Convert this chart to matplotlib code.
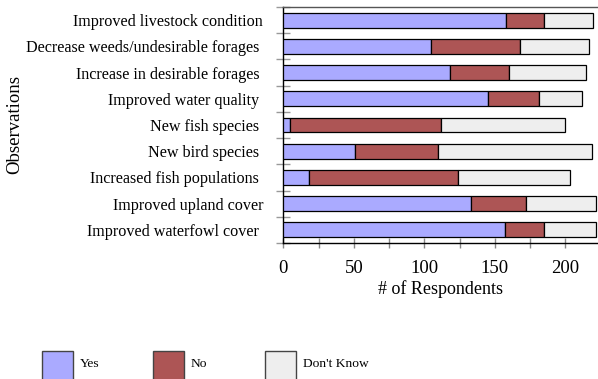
import matplotlib
matplotlib.use("Agg")
import matplotlib.pyplot as plt
from matplotlib.patches import Rectangle
from matplotlib.ticker import MultipleLocator

plt.rcParams['font.family'] = ['Liberation Serif', 'DejaVu Serif']

categories = [
    "Improved livestock condition",
    "Decrease weeds/undesirable forages ",
    "Increase in desirable forages ",
    "Improved water quality ",
    "New fish species ",
    "New bird species ",
    "Increased fish populations ",
    "Improved upland cover",
    "Improved waterfowl cover ",
]
yes = [158, 105, 118, 145, 5, 51, 18, 133, 157]
no = [27, 63, 42, 36, 107, 59, 106, 39, 28]
dont_know = [35, 49, 55, 31, 88, 109, 79, 50, 37]

series_names = ["Yes", "No", "Don't Know"]
colors = ["#aaaaff", "#ad5555", "#eeeeee"]

W, H = 598, 379
fig = plt.figure(figsize=(W / 100, H / 100), dpi=100)
ax = fig.add_axes([283.3 / W, 1 - 243 / H, 1 - 283.3 / W, 236 / H])

ypos = list(range(len(categories)))
left = [0] * len(categories)
for vals, col in zip([yes, no, dont_know], colors):
    ax.barh(ypos, vals, left=left, height=0.57, color=col,
            edgecolor="black", linewidth=0.9, zorder=3)
    left = [a + b for a, b in zip(left, vals)]

ax.set_ylim(len(categories) - 0.5, -0.5)
ax.set_xlim(0, 223.2)

# category labels centred on bars, tick marks between categories
ax.set_yticks(ypos)
ax.set_yticklabels(categories, fontsize=11.6)
ax.tick_params(axis="y", which="major", length=0, pad=14.5)
ax.set_yticks([i + 0.5 for i in range(-1, len(categories))], minor=True)
ax.tick_params(axis="y", which="minor", direction="inout", length=10,
               color="#999999", width=1)

ax.xaxis.set_major_locator(MultipleLocator(50))
ax.xaxis.set_minor_locator(MultipleLocator(25))
ax.tick_params(axis="x", which="both", direction="inout", length=7,
               color="#888888", width=1, labelsize=13.5, pad=9)

ax.set_xlabel("# of Respondents", fontsize=13, labelpad=2)
fig.text(15 / W, 1 - 125 / H, "Observations", fontsize=13.5,
         rotation=90, ha="center", va="center")

for s in ["left", "bottom"]:
    ax.spines[s].set_color("black")
    ax.spines[s].set_linewidth(1.0)
ax.spines["top"].set_color("#555555")
ax.spines["top"].set_linewidth(1.0)
ax.spines["right"].set_visible(False)

# legend row at the bottom
box_w, box_h = 31, 29
legend_x = [42, 153, 265]
for x0, name, col in zip(legend_x, series_names, colors):
    fig.add_artist(Rectangle((x0 / W, 1 - (351 + box_h) / H), box_w / W, box_h / H,
                             transform=fig.transFigure, facecolor=col,
                             edgecolor="#444444", linewidth=1.0))
    fig.text((x0 + box_w + 7) / W, 1 - 364 / H, name, fontsize=9.7,
             va="center", ha="left")

fig.savefig("out.png", dpi=100)
